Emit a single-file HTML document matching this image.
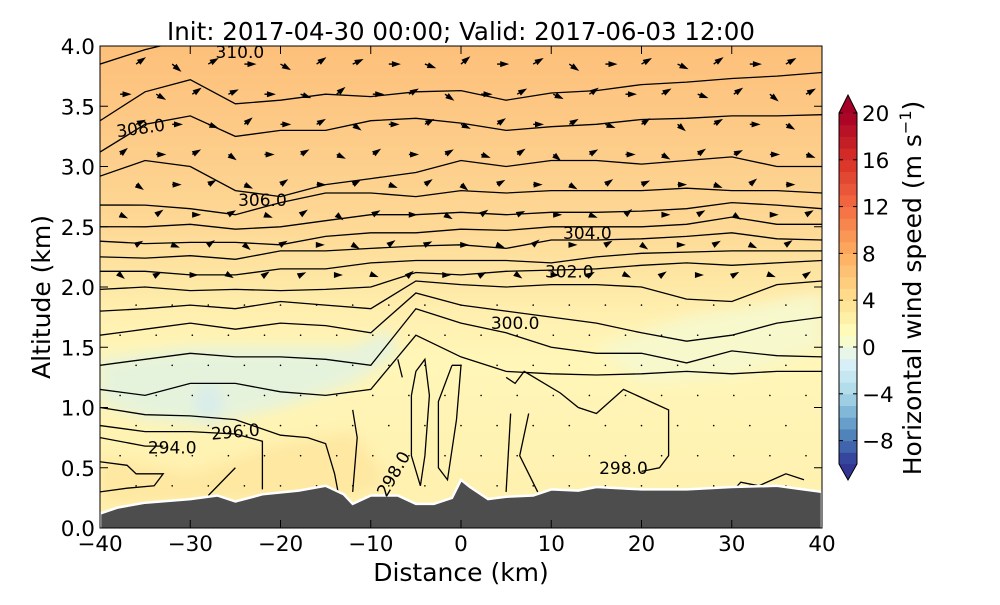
<!DOCTYPE html>
<html><head><meta charset="utf-8"><style>
body{margin:0;background:#fff;width:1000px;height:600px;overflow:hidden}
svg{font-family:"DejaVu Sans","Liberation Sans",sans-serif}
</style></head><body>
<svg id="chart" width="1000" height="600" viewBox="0 0 1000 600" xmlns="http://www.w3.org/2000/svg">
<defs>
<linearGradient id="bg" x1="0" y1="0" x2="0" y2="1">
<stop offset="0" stop-color="#fdc07a"/><stop offset="0.12" stop-color="#fdc783"/>
<stop offset="0.26" stop-color="#fdd08d"/><stop offset="0.38" stop-color="#fed996"/>
<stop offset="0.48" stop-color="#fee6a3"/><stop offset="0.56" stop-color="#fff0b0"/>
<stop offset="0.65" stop-color="#fff6b8"/><stop offset="1" stop-color="#fff0ae"/>
</linearGradient>
<filter id="blur"><feGaussianBlur stdDeviation="7"/></filter>
<clipPath id="plotclip"><rect x="100" y="46" width="722" height="482"/></clipPath>
</defs>
<text x="461" y="40" font-size="24.5" text-anchor="middle">Init: 2017-04-30 00:00; Valid: 2017-06-03 12:00</text>
<g id="plot" clip-path="url(#plotclip)">
<rect x="100" y="46" width="722" height="482" fill="url(#bg)"/>
<g id="patches" filter="url(#blur)"></g>
<g id="contours"></g>
<g id="arrows"></g>
<path id="terrain" fill="#4d4d4d" stroke="#fff" stroke-width="2.5"/>
</g>
<g id="labels"></g>
<rect x="100" y="46" width="722" height="482" fill="none" stroke="#000" stroke-width="1"/>
<g id="axes"></g>
<text x="461" y="581" font-size="25" text-anchor="middle">Distance (km)</text>
<text transform="translate(50,297) rotate(-90)" font-size="25" text-anchor="middle">Altitude (km)</text>
<g id="colorbar"></g>
<text transform="translate(921,288) rotate(-90)" font-size="25" text-anchor="middle">Horizontal wind speed (m s<tspan dy="-10" font-size="16">−1</tspan><tspan dy="10">)</tspan></text>
</svg>
<script>
const NS="http://www.w3.org/2000/svg";
const distances=[-40,-35,-30,-25,-20,-15,-10,-5,0,5,10,15,20,25,30,35,40];
const terrainX=[-40,-38,-35,-30,-27,-25,-22,-18,-15,-13,-12,-10,-7,-5,-3,-1,0,1,3,5,8,10,13,15,20,25,30,35,37,40];
const terrainAlt=[0.12,0.17,0.21,0.24,0.27,0.22,0.28,0.31,0.35,0.28,0.2,0.27,0.27,0.2,0.2,0.25,0.4,0.34,0.24,0.26,0.27,0.32,0.31,0.34,0.32,0.32,0.34,0.35,0.33,0.3];
const isentropes=[
[3.85,3.97,4.06,4.12,4.2,4.2,4.2,4.2,4.2,4.2,4.2,4.2,4.2,4.2,4.2,4.2,4.2],
[3.38,3.62,3.72,3.52,3.55,3.6,3.58,3.62,3.63,3.55,3.61,3.63,3.68,3.7,3.73,3.75,3.78],
[3.12,3.35,3.42,3.25,3.3,3.3,3.38,3.4,3.36,3.3,3.33,3.35,3.39,3.4,3.42,3.42,3.43],
[2.92,3.05,3.0,2.8,2.75,2.85,2.9,2.95,3.05,3.0,3.05,3.05,3.02,3.05,3.08,3.0,3.0],
[2.68,2.68,2.65,2.6,2.7,2.78,2.78,2.75,2.8,2.78,2.8,2.8,2.8,2.82,2.8,2.8,2.78],
[2.5,2.5,2.52,2.48,2.5,2.55,2.6,2.6,2.62,2.6,2.62,2.62,2.63,2.65,2.7,2.68,2.65],
[2.38,2.36,2.37,2.37,2.35,2.42,2.45,2.45,2.48,2.47,2.5,2.5,2.5,2.52,2.58,2.52,2.52],
[2.25,2.24,2.26,2.23,2.3,2.3,2.32,2.34,2.35,2.32,2.39,2.39,2.4,2.42,2.45,2.4,2.39],
[2.13,2.13,2.1,2.1,2.15,2.15,2.2,2.22,2.22,2.22,2.2,2.25,2.28,2.29,2.3,2.3,2.3],
[1.98,2.0,1.97,1.98,1.97,1.98,2.0,2.12,2.1,2.13,2.14,2.15,2.18,2.2,2.18,2.2,2.22],
[1.8,1.82,1.85,1.82,1.88,1.85,1.82,2.05,2.02,2.0,2.02,2.02,2.0,1.9,1.88,2.02,2.05],
[1.6,1.65,1.7,1.65,1.7,1.68,1.62,1.95,1.85,1.8,1.75,1.7,1.62,1.55,1.6,1.7,1.75],
[1.35,1.4,1.45,1.42,1.42,1.4,1.35,1.82,1.7,1.62,1.5,1.45,1.45,1.37,1.47,1.43,1.42],
[1.15,1.1,1.2,1.2,1.13,1.1,1.15,1.6,1.42,1.3,1.28,1.27,1.28,1.3,1.28,1.3,1.3]
];
const lowLines=[
[[-40,1.0],[-35,0.94],[-30,0.93],[-25,0.9],[-20,0.77],[-17,0.75],[-15,0.7],[-14,0.45],[-13.5,0.25]],
[[-40,0.85],[-35,0.8],[-30,0.8],[-25,0.78],[-22,0.72],[-22,0.32]],
[[-40,0.75],[-35,0.68],[-33,0.68]],
[[-40,0.55],[-37,0.52],[-36,0.45],[-33,0.45],[-34,0.35],[-37,0.33],[-40,0.3]],
[[-25,0.5],[-28,0.27]],
[[-12,0.98],[-11.5,0.75],[-12,0.3]],
[[-7,1.4],[-6.5,1.25]],
[[-5,1.3],[-4,1.4],[-3.5,1.1],[-4,0.6],[-4.5,0.35],[-5.5,0.6],[-5.5,1.1],[-5,1.3]],
[[-1,1.35],[0,1.35],[-0.5,0.9],[-1.5,0.4],[-2.5,0.5],[-2.5,1.05],[-1,1.35]],
[[5,1.25],[6,1.2],[7,1.3],[11,1.12],[13,1.0],[15,0.95],[18,1.15],[23,0.98],[23,0.6],[22,0.5],[20,0.47]],
[[5.5,0.95],[5,0.3]],[[7.5,0.95],[6.5,0.6],[8.5,0.3]],
[[30,0.3],[31,0.38],[33,0.35],[36,0.45],[38,0.4]]
];
const contourLabels=["310.0","308.0","306.0","304.0","302.0","300.0","296.0","294.0","298.0","298.0"];
const labelX=[-24.5,-35.5,-22,14,12,6,-25,-32,-7.5,18];
const labelAlt=[3.95,3.32,2.72,2.45,2.13,1.7,0.8,0.67,0.45,0.5];
const labelRot=[0,-8,0,0,0,0,-5,0,-60,0];
const arrowAlts=[3.85,3.6,3.35,3.1,2.85,2.6,2.35,2.1,1.85,1.6,1.35,1.1,0.85,0.6,0.35];
const arrowU=[7,6.5,6,5.5,5,4.5,4,2.5,0.6,0.5,0.5,0.5,0.5,0.5,0.4];
const arrowTilt=[35,-40,30,0,-30,35,25,0,-20,40,0,30,-35,0,30,-25,35,0,30,-20];
const arrowDist=[-36,-32,-28,-24,-20,-16,-12,-8,-4,0,4,8,12,16,20,24,28,32,36,40];
const xTicks=[-40,-30,-20,-10,0,10,20,30,40];
const yTicks=[0,0.5,1,1.5,2,2.5,3,3.5,4];
const cbTicks=[-8,-4,0,4,8,12,16,20];
const cbStops=[-10,-8,-6,-4,-1,1,4,8,12,16,20];
const cbColors=["#313695","#4575b4","#74add1","#abd9e9","#e0f3f8","#ffffbf","#fee090","#fdae61","#f46d43","#d73027","#a50026"];

const X=d=>100+(d+40)*722/80;
const Y=a=>528-a*120.5;
const CB=v=>347-v*11.7;
function el(tag,attrs,parent){const e=document.createElementNS(NS,tag);for(const k in attrs)e.setAttribute(k,attrs[k]);parent.appendChild(e);return e;}
function smooth(pts){let d=`M${pts[0][0]},${pts[0][1]}`;for(let i=1;i<pts.length;i++)d+=` L${pts[i][0].toFixed(1)},${pts[i][1].toFixed(1)}`;return d;}

const patches=document.getElementById('patches');
const bluePatch=[[-40,1.4],[-30,1.5],[-20,1.5],[-12,1.5],[-8,1.65],[-7,1.45],[-12,1.2],[-20,1.0],[-28,0.85],[-35,0.9],[-40,1.05]];
let pb=el('path',{d:smooth(bluePatch.map(p=>[X(p[0]),Y(p[1])]))+'Z',fill:'#e6f3dc'},patches);


let pb2=el('ellipse',{cx:X(-28),cy:Y(1.05),rx:14,ry:18,fill:'#d8ecea'},patches);


let pb3=el('path',{d:smooth([[15,1.5],[25,1.75],[40,1.95],[40,1.5],[30,1.25],[20,1.2]].map(p=>[X(p[0]),Y(p[1])]))+'Z',fill:'#f7f8cc'},patches);


let pb4=el('path',{d:smooth([[-40,0.2],[-40,0.6],[-30,0.45],[-20,0.7],[-12,0.8],[-8,0.4],[-12,0.25]].map(p=>[X(p[0]),Y(p[1])]))+'Z',fill:'#fee8a2'},patches);



const cg=document.getElementById('contours');
isentropes.forEach((row,i)=>{
  const p=el('path',{d:smooth(row.map((a,j)=>[X(distances[j]),Y(a)])),fill:'none',stroke:'#000','stroke-width':1.3},cg);
  
  
});
lowLines.forEach(line=>{
  const p=el('path',{d:smooth(line.map(q=>[X(q[0]),Y(q[1])])),fill:'none',stroke:'#000','stroke-width':1.3},cg);
  
  
});
const ag=document.getElementById('arrows');
arrowAlts.forEach((a,i)=>{
  arrowDist.forEach((d,j)=>{
    const x0=X(d)-(i%2?16:0), y0=Y(a);
    if(x0<104||x0>818)return;
    const len=arrowU[i]*1.3;
    const ang=-arrowTilt[(j+i*3)%arrowTilt.length]*Math.PI/180;
    const x1=x0+len*Math.cos(ang), y1=y0+len*Math.sin(ang);
    const g=el('g',{},ag);
    
    
    if(len<3){el('circle',{cx:x0,cy:y0,r:0.8,fill:'#000'},g);return;}
    el('line',{x1:x0,y1:y0,x2:x1,y2:y1,stroke:'#000','stroke-width':1.4},g);
    const h=6,c=Math.cos(ang),s=Math.sin(ang);
    el('polygon',{points:`${x1+c*3},${y1+s*3} ${x1-c*h-s*3},${y1-s*h+c*3} ${x1-c*h+s*3},${y1-s*h-c*3}`,fill:'#000'},g);
  });
});
let tp=terrainX.map((d,i)=>[X(d),Y(terrainAlt[i])]);
document.getElementById('terrain').setAttribute('d',smooth(tp)+` L822,540 L100,540 Z`);
const lg=document.getElementById('labels');
contourLabels.forEach((t,i)=>{
  const x=X(labelX[i]),y=Y(labelAlt[i]);
  const tx=el('text',{x:x,y:y+6,'font-size':17,'text-anchor':'middle',transform:`rotate(${labelRot[i]},${x},${y})`},lg);
  tx.textContent=t;
  
  
});
const ax=document.getElementById('axes');
xTicks.forEach(v=>{
  const x=X(v);
  el('line',{x1:x,y1:528,x2:x,y2:520,stroke:'#000'},ax);
  el('line',{x1:x,y1:46,x2:x,y2:54,stroke:'#000'},ax);
  const t=el('text',{x:x,y:551,'font-size':21.5,'text-anchor':'middle'},ax);
  t.textContent=(v<0?'\u2212'+(-v):v);
  
  
});
yTicks.forEach(v=>{
  const y=Y(v);
  el('line',{x1:100,y1:y,x2:108,y2:y,stroke:'#000'},ax);
  el('line',{x1:822,y1:y,x2:814,y2:y,stroke:'#000'},ax);
  const t=el('text',{x:95,y:y+8,'font-size':21.5,'text-anchor':'end'},ax);
  t.textContent=v.toFixed(1);
  
  
});
const cb=document.getElementById('colorbar');
function hex(c){return [1,3,5].map(i=>parseInt(c.substr(i,2),16));}
function colorAt(v){for(let i=0;i<cbStops.length-1;i++){if(v<=cbStops[i+1]){const f=(v-cbStops[i])/(cbStops[i+1]-cbStops[i]);const a=hex(cbColors[i]),b=hex(cbColors[i+1]);return `rgb(${a.map((x,k)=>Math.round(x+(b[k]-x)*f)).join(',')})`;}}return cbColors[cbColors.length-1];}
for(let v=-10;v<20;v++){
  const r=el('rect',{x:839,y:CB(v+1),width:18,height:CB(v)-CB(v+1)+0.5,fill:colorAt(v+0.5)},cb);
  
  
}
el('polygon',{points:`839,${CB(20)} 857,${CB(20)} 848,95`,fill:colorAt(20)},cb);
el('polygon',{points:`839,${CB(-10)} 857,${CB(-10)} 848,480`,fill:colorAt(-10)},cb);
el('path',{d:`M839,${CB(20)} L848,95 L857,${CB(20)} L857,${CB(-10)} L848,480 L839,${CB(-10)} Z`,fill:'none',stroke:'#000','stroke-width':1},cb);
cbTicks.forEach(v=>{
  const y=CB(v);
  el('line',{x1:839,y1:y,x2:843,y2:y,stroke:'#000'},cb);
  el('line',{x1:857,y1:y,x2:853,y2:y,stroke:'#000'},cb);
  const t=el('text',{x:862,y:y+8,'font-size':21.5},cb);
  t.textContent=(v<0?'\u2212'+(-v):v);
  
  
});
</script>
</body></html>
